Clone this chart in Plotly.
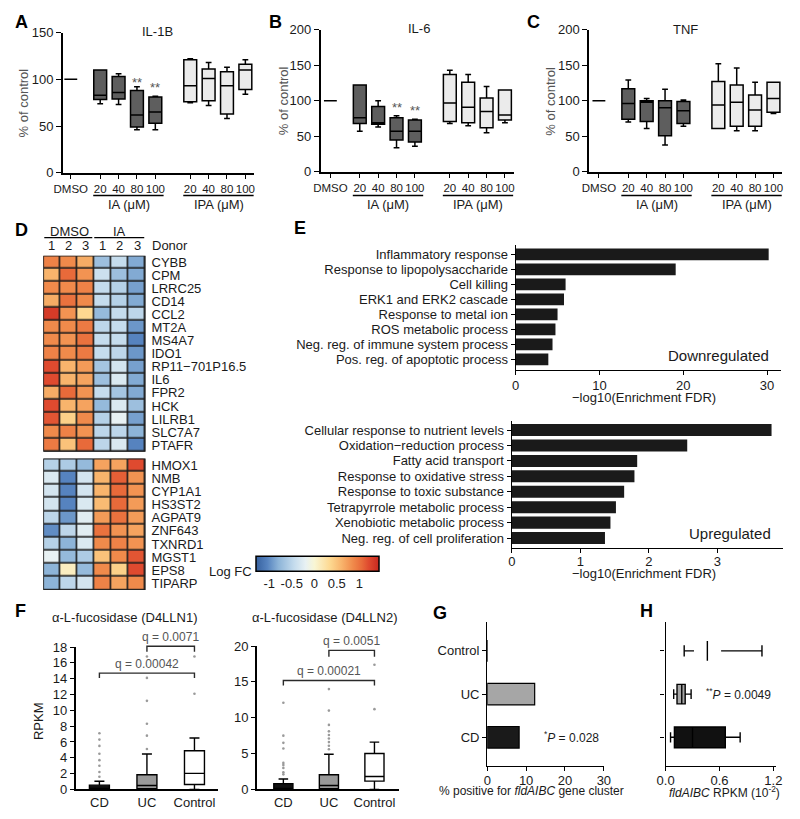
import plotly.graph_objects as go

W, H = 800, 819
FONT = "Arial, 'Liberation Sans', sans-serif"
INK = "#1a1a1a"
GREY_TXT = "#555555"


def px(x):
    return x / W


def py(y):
    return 1 - y / H


# ---------------- Panels A-C: cytokine box plots ----------------
dose_labels = ["DMSO", "20", "40", "80", "100", "20", "40", "80", "100"]
dose_pos = [0, 1.6, 2.6, 3.6, 4.6, 6.5, 7.5, 8.5, 9.5]
# (lower whisker, q1, median, q3, upper whisker) per dose 20/40/80/100
dmso_stats = [(100, 100, 100, 100, 100)]
il1b_ia = [(74, 78.5, 83, 110, 110), (73, 79, 86, 103, 106), (46, 49, 62, 88, 92), (46, 53, 65, 81, 82)]
il1b_ipa = [(75, 76, 93, 121, 122), (72, 77, 101, 111, 118), (58, 63, 93, 108, 113), (84, 89, 110, 116, 121)]
il6_ia = [(57, 68, 76, 122, 122), (63, 67, 69, 92, 100), (34, 45, 57, 76, 79), (36, 42, 57, 73, 74)]
il6_ipa = [(68, 71, 97, 137, 143), (65, 69, 91, 126, 137), (55, 62, 85, 104, 120), (69, 73, 80, 115, 115)]
tnf_ia = [(70, 74, 96, 117, 129), (61, 71, 98, 100, 103), (38, 51, 90, 100, 116), (64, 68, 86, 99, 101)]
tnf_ipa = [(61, 61, 94, 127, 152), (58, 64, 98, 122, 146), (58, 64, 87, 108, 126), (82, 84, 103, 126, 126)]

# ---------------- Panel D: heatmap ----------------
genes_down = ["CYBB", "CPM", "LRRC25", "CD14", "CCL2", "MT2A", "MS4A7", "IDO1",
              "RP11\u2212701P16.5", "IL6", "FPR2", "HCK", "LILRB1", "SLC7A7", "PTAFR"]
logfc_down = [
    [0.90, 0.85, 0.65, -0.70, -0.45, -0.85],
    [0.60, 1.05, 0.80, -0.40, -0.70, -0.85],
    [0.85, 0.85, 0.90, -0.45, -0.55, -0.90],
    [0.65, 1.00, 0.85, -0.45, -0.55, -0.85],
    [1.30, 0.80, 0.35, -0.75, -0.45, -0.50],
    [0.85, 0.85, 0.95, -0.50, -0.45, -0.95],
    [0.85, 0.80, 1.00, -0.45, -0.45, -1.05],
    [0.90, 0.85, 0.95, -0.45, -0.50, -0.95],
    [1.20, 0.60, 0.75, -0.65, -0.35, -0.90],
    [1.20, 0.60, 0.70, -0.70, -0.30, -0.85],
    [0.65, 1.05, 0.80, -0.45, -0.65, -0.85],
    [1.20, 0.60, 0.70, -0.75, -0.30, -0.70],
    [1.15, 0.40, 0.85, -0.55, -0.20, -0.90],
    [0.85, 0.90, 0.80, -0.50, -0.50, -0.80],
    [0.95, 0.50, 1.05, -0.50, -0.30, -1.05],
]
genes_up = ["HMOX1", "NMB", "CYP1A1", "HS3ST2", "AGPAT9", "ZNF643", "TXNRD1", "MGST1", "EPS8", "TIPARP"]
logfc_up = [
    [-0.55, -0.60, -0.75, 0.70, 0.70, 1.20],
    [-0.30, -1.05, -0.35, 0.60, 1.10, 0.80],
    [-0.35, -1.05, -0.35, 0.60, 1.05, 0.80],
    [-0.35, -1.05, -0.30, 0.55, 1.05, 0.75],
    [-0.50, -0.95, -0.25, 0.75, 1.00, 0.75],
    [-1.00, -0.50, -0.25, 1.00, 0.80, 0.70],
    [-0.55, -0.80, -0.30, 0.85, 0.90, 0.80],
    [-0.20, -0.75, -0.60, 0.50, 0.85, 1.15],
    [-0.80, 0.10, -0.75, 0.85, 0.40, 1.20],
    [-0.80, -0.50, -0.35, 0.90, 0.70, 0.85],
]
donor_labels = ["1", "2", "3", "1", "2", "3"]
cbar_ticks = [-1, -0.5, 0, 0.5, 1]
cbar_ticktext = ["-1", "-0.5", "0", "0.5", "1"]

# ---------------- Panel E: GO enrichment ----------------
terms_down = ["Inflammatory response", "Response to lipopolysaccharide", "Cell killing",
              "ERK1 and ERK2 cascade", "Response to metal ion", "ROS metabolic process",
              "Neg. reg. of immune system process", "Pos. reg. of apoptotic process"]
fdr_down = [30.2, 19.1, 5.96, 5.77, 5.0, 4.75, 4.4, 3.9]
terms_up = ["Cellular response to nutrient levels", "Oxidation\u2212reduction process",
            "Fatty acid transport", "Response to oxidative stress", "Response to toxic substance",
            "Tetrapyrrole metabolic process", "Xenobiotic metabolic process",
            "Neg. reg. of cell proliferation"]
fdr_up = [3.79, 2.56, 1.83, 1.79, 1.64, 1.52, 1.44, 1.36]

# ---------------- Panel F: fucosidase RPKM ----------------
f_groups = ["CD", "UC", "Control"]
d4lln1_stats = [(0, 0, 0.1, 0.54, 1.03), (0, 0.1, 0.5, 1.86, 4.47), (0, 0.62, 2.03, 4.88, 6.5)]
d4lln1_out = [[1.6, 2.2, 3.0, 3.7, 4.5, 5.5, 6.3, 7.1],
              [5.1, 6.8, 8.3, 11.2, 14.1, 16.8],
              [12.1, 16.8]]
d4lln2_stats = [(0, 0, 0.1, 0.8, 1.46), (0, 0.1, 0.55, 2.05, 4.9), (0, 1.15, 1.8, 5.0, 6.6)]
d4lln2_out = [[2.1, 2.4, 3.0, 3.4, 3.7, 5.7, 6.5, 7.5, 12.1],
              [5.6, 6.1, 6.6, 7.1, 7.6, 8.1, 9.0, 11.0, 14.0],
              [11.2, 17.4]]
d4lln1_q = ["q = 0.00042", "q = 0.0071"]
d4lln2_q = ["q = 0.00021", "q = 0.0051"]

# ---------------- Panel G / H ----------------
gh_groups = ["CD", "UC", "Control"]
g_pct = [8.2, 12.2, 0]
h_stats = [(0.055, 0.098, 0.30, 0.665, 0.83), (0.09, 0.127, 0.18, 0.218, 0.284),
           (0.207, 0.316, 0.465, 0.618, 1.073)]

# =================================================================
fig = go.Figure()
layout = dict(width=W, height=H, margin=dict(l=0, r=0, t=0, b=0),
              paper_bgcolor="white", plot_bgcolor="white", showlegend=False,
              font=dict(family=FONT, size=13, color=INK), boxmode="overlay")
annotations = []
shapes = []


def refs(n):
    return ("x" if n == 1 else f"x{n}", "y" if n == 1 else f"y{n}")


def base_axis(**kw):
    d = dict(showline=True, linecolor="black", linewidth=1.6, showgrid=False, zeroline=False,
             ticks="outside", ticklen=4, tickwidth=1.4, tickcolor="black",
             tickfont=dict(size=13, color=INK), fixedrange=True)
    d.update(kw)
    return d


def set_axes(n, xdom, ydom, xa, ya):
    xr, yr = refs(n)
    xa = dict(xa)
    ya = dict(ya)
    xa.update(domain=[px(xdom[0]), px(xdom[1])], anchor=yr)
    ya.update(domain=[py(ydom[1]), py(ydom[0])], anchor=xr)
    layout["xaxis" if n == 1 else f"xaxis{n}"] = xa
    layout["yaxis" if n == 1 else f"yaxis{n}"] = ya


def ann(text, x, y, size=13, color=INK, xanchor="center", yanchor="middle", xref="paper", yref="paper", **kw):
    annotations.append(dict(text=text, x=px(x) if xref == "paper" else x, y=py(y) if yref == "paper" else y,
                            xref=xref, yref=yref, showarrow=False, xanchor=xanchor, yanchor=yanchor,
                            font=dict(size=size, color=color, family=FONT), **kw))


def box(n, positions, stats, fill, width, orient="v", lw=1.5, ww=0.45):
    xr, yr = refs(n)
    kw = dict(q1=[s[1] for s in stats], median=[s[2] for s in stats], q3=[s[3] for s in stats],
              lowerfence=[s[0] for s in stats], upperfence=[s[4] for s in stats],
              fillcolor=fill, line=dict(color="black", width=lw), width=width, whiskerwidth=ww,
              boxpoints=False, hoverinfo="skip", xaxis=xr, yaxis=yr, orientation=orient)
    if orient == "v":
        kw["x"] = positions
    else:
        kw["y"] = positions
    fig.add_trace(go.Box(**kw))


letters = [("A", 13, 15), ("B", 272, 15), ("C", 535, 15), ("D", 13, 227), ("E", 297, 225),
           ("F", 12, 615), ("G", 440, 617), ("H", 650, 615)]
for t, x, y in letters:
    ann(f"<b>{t}</b>", x, y, size=18, color="black")

# ---------------- A-C ----------------
top_panels = [
    (1, "IL-1B", il1b_ia, il1b_ipa, 150, (55, 250.5), (26, 169), -0.43, (152, 25), 15, [(3.6, 97), (4.6, 91)]),
    (2, "IL-6", il6_ia, il6_ipa, 200, (318, 515), (23, 168), -0.53, (418, 22), 280, [(3.6, 90), (4.6, 86)]),
    (3, "TNF", tnf_ia, tnf_ipa, 200, (592, 789), (23, 168), -0.53, (690, 23), 553, []),
]
for n, title, ia, ipa, ymax, xdom, ydom, xmin, tpos, ytx, stars in top_panels:
    xr, yr = refs(n)
    box(n, dose_pos[:1], dmso_stats, "white", 0.7)
    box(n, dose_pos[1:5], ia, "#5e5e5e", 0.7)
    box(n, dose_pos[5:], ipa, "#ebebeb", 0.7)
    set_axes(n, xdom, ydom,
             base_axis(range=[xmin, xmin + (xdom[1] - xdom[0]) / 18.75], tickvals=dose_pos,
                       ticktext=dose_labels, ticklen=4, tickangle=0, tickfont=dict(size=11.5, color=INK)),
             base_axis(range=[0, ymax], tickvals=list(range(0, ymax + 1, 50)), ticklen=5))
    ann(title, tpos[0], tpos[1])
    ann("% of control", ytx, (ydom[0] + ydom[1]) / 2, color=GREY_TXT, textangle=-90)
    for sx, sy in stars:
        ann("**", sx, sy, size=13, color=GREY_TXT, xref=xr, yref=yr)
    for lo, hi, lab in [(1.6, 4.6, "IA (\u03bcM)"), (6.5, 9.5, "IPA (\u03bcM)")]:
        shapes.append(dict(type="line", xref=xr, yref="paper", x0=lo - 0.38, x1=hi + 0.45,
                           y0=py(192), y1=py(192), line=dict(color="black", width=1.5)))
        annotations.append(dict(text=lab, xref=xr, yref="paper", x=(lo + hi) / 2 + 0.05, y=py(201),
                                yanchor="middle", showarrow=False,
                                font=dict(size=13, color=INK, family=FONT)))

# ---------------- D ----------------
colorscale = [
    [0.0, "#36619f"], [0.0916, "#5683bf"], [0.183, "#8db4d8"], [0.311, "#c5dced"],
    [0.403, "#e8f1f3"], [0.476, "#f9f6d4"], [0.604, "#fdd890"], [0.696, "#f8b46c"],
    [0.788, "#f08a4b"], [0.861, "#e86a3a"], [0.916, "#df4a2f"], [1.0, "#c8281f"],
]
layout["coloraxis"] = dict(
    colorscale=colorscale, cmin=-1.3, cmax=1.43,
    colorbar=dict(orientation="h", x=px(314.5), xanchor="center", y=py(575.5), yanchor="middle",
                  len=125 / W, lenmode="fraction", thickness=15, thicknessmode="pixels",
                  outlinecolor="black", outlinewidth=1.5, tickvals=cbar_ticks, ticktext=cbar_ticktext,
                  ticks="", tickfont=dict(size=13, color=INK), xpad=0, ypad=0))
for n, genes, z, ydom in [(4, genes_down, logfc_down, (253.3, 453)), (5, genes_up, logfc_up, (460, 594))]:
    xr, yr = refs(n)
    nr = len(genes)
    fig.add_trace(go.Heatmap(z=z, x=list(range(6)), y=list(range(nr)), coloraxis="coloraxis",
                             xgap=1.6, ygap=1.6, xaxis=xr, yaxis=yr, hoverinfo="skip"))
    shapes.append(dict(type="rect", xref=xr, yref=yr, x0=-0.5, x1=5.5, y0=-0.5, y1=nr - 0.5,
                       fillcolor="#1e1e1e", line=dict(width=0), layer="below"))
    shapes.append(dict(type="rect", xref=xr, yref=yr, x0=-0.5, x1=5.5, y0=-0.5, y1=nr - 0.5,
                       fillcolor="rgba(0,0,0,0)", line=dict(color="#1e1e1e", width=1.6), layer="above"))
    set_axes(n, (35, 139.3), ydom,
             dict(range=[-0.5, 5.5], showline=False, showgrid=False, zeroline=False,
                  showticklabels=False, ticks="", fixedrange=True),
             dict(range=[nr - 0.5, -0.5], showline=False, showgrid=False, zeroline=False, side="right",
                  tickvals=list(range(nr)), ticktext=genes, ticks="", ticklabelstandoff=5,
                  tickfont=dict(size=13, color=INK), fixedrange=True))
for i, lab in enumerate(donor_labels):
    annotations.append(dict(text=lab, xref="x4", yref="paper", x=i, y=py(243), yanchor="middle",
                            showarrow=False, font=dict(size=13, color=INK, family=FONT)))
ann("Donor", 144, 243, xanchor="left")
ann("DMSO", 61.5, 229)
ann("IA", 113, 229)
shapes.append(dict(type="line", xref="paper", yref="paper", x0=px(36), x1=px(85), y0=py(235), y1=py(235),
                   line=dict(color="black", width=1.3)))
shapes.append(dict(type="line", xref="paper", yref="paper", x0=px(87), x1=px(138), y0=py(235), y1=py(235),
                   line=dict(color="black", width=1.3)))
ann("Log FC", 226, 575)

# ---------------- E ----------------
for n, terms, vals, xdom, ydom, xr_, yr_, xt, lab, labpos, titley, stand in [
    (6, terms_down, fdr_down, (517, 788), (242, 370), [0, 31.7], [7.72, -0.65], [0, 10, 20, 30],
     "Downregulated", (778, 355), 398, -1),
    (7, terms_up, fdr_up, (513, 790), (422, 551), [0, 3.96], [7.64, -0.57], [0, 1, 2, 3],
     "Upregulated", (780, 536), 577, -3),
]:
    xr, yr = refs(n)
    fig.add_trace(go.Bar(x=vals, y=list(range(len(terms))), orientation="h", width=0.78,
                         marker=dict(color=INK, line=dict(width=0)), xaxis=xr, yaxis=yr, hoverinfo="skip"))
    set_axes(n, xdom, ydom,
             base_axis(range=xr_, tickvals=xt, linewidth=1.3, ticklen=4, ticklabelstandoff=stand),
             base_axis(range=yr_, tickvals=list(range(len(terms))), ticktext=terms, linewidth=1.3,
                       ticklen=4))
    ann(lab, labpos[0], labpos[1], size=15, xanchor="right")
    ann("\u2212log10(Enrichment FDR)", 648, titley)

# ---------------- F ----------------
f_pos = [0, 1, 2]
for n, stats, outs, qs, xdom, ydom, xrng, ymax, ytick, title, tx, brk in [
    (8, d4lln1_stats, d4lln1_out, d4lln1_q, (68, 213.5), (652, 797), [-0.5, 2.5], 18, 2,
     "\u03b1-L-fucosidase (D4LLN1)", 118, [(0, 2, 14.7, 14.1), (1, 2, 18.1, 17.4)]),
    (9, d4lln2_stats, d4lln2_out, d4lln2_q, (253, 398), (651, 797), [-0.58, 2.54], 20, 5,
     "\u03b1-L-fucosidase (D4LLN2)", 322, [(0, 2, 15.2, 14.5), (1, 2, 19.4, 18.5)]),
]:
    xr, yr = refs(n)
    for i, fill in enumerate(["#111111", "#999999", "white"]):
        box(n, [f_pos[i]], [stats[i]], fill, 0.42, lw=1.4, ww=0.5)
        fig.add_trace(go.Scatter(x=[f_pos[i]] * len(outs[i]), y=outs[i], mode="markers",
                                 marker=dict(size=2.6, color="#9a9a9a"), xaxis=xr, yaxis=yr,
                                 cliponaxis=False, hoverinfo="skip"))
    set_axes(n, xdom, ydom,
             base_axis(range=xrng, tickvals=f_pos, ticktext=f_groups, ticks="", linewidth=1.5),
             base_axis(range=[0, ymax], tickvals=list(range(0, ymax + 1, ytick)), linewidth=1.5))
    ann(title, tx, 622)

    def vy(v, ydom=ydom, ymax=ymax):
        # value on this panel's y axis -> paper y (bracket guides may sit above the axis top)
        return py(ydom[1] - (ydom[1] - ydom[0]) * v / ymax)

    for (a, b, ytop, ybot), q in zip(brk, qs):
        shapes.append(dict(type="path", xref=xr, yref="paper",
                           path=f"M {a},{vy(ybot)} L {a},{vy(ytop)} L {b},{vy(ytop)} L {b},{vy(ybot)}",
                           line=dict(color="#2a2a2a", width=1.4)))
        annotations.append(dict(text=q, xref=xr, yref="paper", x=(a + b) / 2, y=vy(ytop), yanchor="bottom",
                                showarrow=False, yshift=0,
                                font=dict(size=12, color=GREY_TXT, family=FONT)))
ann("RPKM", 30, 727, textangle=-90)

# ---------------- G ----------------
gh_pos = [0, 1, 2]
fig.add_trace(go.Bar(x=g_pct, y=gh_pos, orientation="h", width=0.5,
                     marker=dict(color=["#1a1a1a", "#a6a6a6", "white"], line=dict(color="black", width=1.2)),
                     xaxis="x10", yaxis="y10", hoverinfo="skip"))
set_axes(10, (488, 607), (626, 773),
         base_axis(range=[0, 30], tickvals=[0, 10, 20, 30], linewidth=1.4, ticklen=4, ticklabelstandoff=-2),
         base_axis(range=[-0.66, 2.68], tickvals=gh_pos, ticktext=gh_groups, linewidth=1.4))
ann("<sup>*</sup><i>P</i> = 0.028", 574, 744, size=12)
ann("% positive for <i>fldAIBC</i> gene cluster", 533, 799, size=12)

# ---------------- H ----------------
box(11, [gh_pos[0]], [h_stats[0]], "#111111", 0.48, orient="h", lw=1.4, ww=0.5)
box(11, [gh_pos[1]], [h_stats[1]], "#a6a6a6", 0.45, orient="h", lw=1.4, ww=0.5)
lo, q1, med, q3, hi = h_stats[2]
yc = gh_pos[2]
fig.add_trace(go.Scatter(
    x=[lo, lo, None, lo, q1, None, med, med, None, q3, hi, None, hi, hi],
    y=[yc - 0.13, yc + 0.13, None, yc, yc, None, yc - 0.23, yc + 0.23, None, yc, yc, None, yc - 0.13, yc + 0.13],
    mode="lines", line=dict(color="black", width=1.4), xaxis="x11", yaxis="y11", hoverinfo="skip"))
set_axes(11, (670, 783), (626, 773),
         base_axis(range=[0, 1.233], tickvals=[0, 0.6, 1.2], tickformat=".1f", linewidth=1.4, ticklen=4,
                   ticklabelstandoff=-2),
         base_axis(range=[-0.66, 2.68], tickvals=gh_pos, showticklabels=False, linewidth=1.4))
ann("<sup>**</sup><i>P</i> = 0.0049", 744, 700, size=12)
ann("<i>fldAIBC</i> RPKM (10<sup>-2</sup>)", 730, 800, size=12)

layout["annotations"] = annotations
layout["shapes"] = shapes
fig.update_layout(**layout)
fig.write_html("out.html", config={"displayModeBar": False},
               post_script="document.body.style.margin='0';document.body.style.padding='0';")
